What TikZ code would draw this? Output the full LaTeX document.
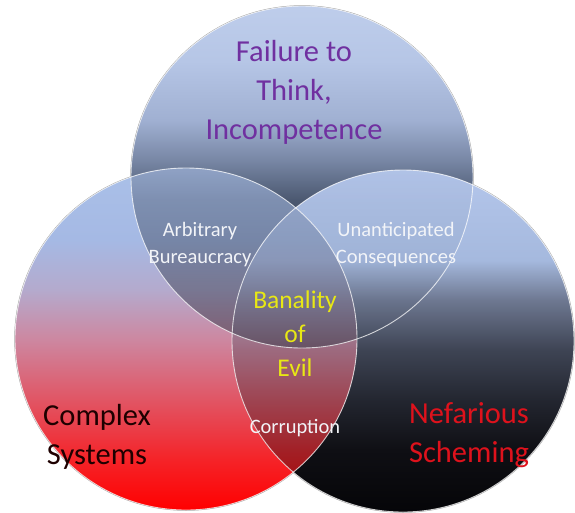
\documentclass[tikz,border=0pt]{standalone}
\usepackage{fontspec}
\setmainfont{Carlito}
% top circle colours
\definecolor{ta}{RGB}{35,42,55}
\definecolor{tb}{RGB}{55,65,85}
\definecolor{tcc}{RGB}{75,88,112}
\definecolor{td}{RGB}{120,135,165}
\definecolor{te}{RGB}{160,176,210}
\definecolor{tf}{RGB}{182,198,230}
\definecolor{tg}{RGB}{190,205,235}
% left circle colours
\definecolor{la}{RGB}{255,0,0}
\definecolor{lb}{RGB}{245,35,40}
\definecolor{lcc}{RGB}{225,85,100}
\definecolor{ld}{RGB}{205,135,160}
\definecolor{le}{RGB}{180,170,205}
\definecolor{lf}{RGB}{165,185,228}
\definecolor{lg}{RGB}{170,192,232}
% right circle colours
\definecolor{ra}{RGB}{5,5,8}
\definecolor{rb}{RGB}{15,15,20}
\definecolor{rcc}{RGB}{35,38,48}
\definecolor{rd}{RGB}{62,68,84}
\definecolor{re}{RGB}{110,120,145}
\definecolor{rf}{RGB}{165,185,222}
\definecolor{rg}{RGB}{180,198,235}
% text colours
\definecolor{purpletxt}{RGB}{112,48,160}
\definecolor{yellowtxt}{RGB}{232,232,20}
\definecolor{redtxt}{RGB}{222,18,28}
\definecolor{darktxt}{RGB}{30,0,0}
\definecolor{whitetxt}{RGB}{242,244,248}
\pgfdeclareverticalshading{tshade}{100bp}{color(0bp)=(ta); color(25bp)=(ta); color(37.9bp)=(tb); color(46.6bp)=(tcc); color(52.5bp)=(td); color(58.3bp)=(te); color(67bp)=(tf); color(75bp)=(tg); color(100bp)=(tg)}
\pgfdeclareverticalshading{lshade}{100bp}{color(0bp)=(la); color(25bp)=(la); color(32.4bp)=(lb); color(41.1bp)=(lcc); color(49.9bp)=(ld); color(57.2bp)=(le); color(64.5bp)=(lf); color(75bp)=(lg); color(100bp)=(lg)}
\pgfdeclareverticalshading{rshade}{100bp}{color(0bp)=(ra); color(25bp)=(ra); color(34.1bp)=(rb); color(41.4bp)=(rcc); color(48.7bp)=(rd); color(56bp)=(re); color(61.8bp)=(rf); color(75bp)=(rg); color(100bp)=(rg)}
\tikzset{
  ring/.style={white, opacity=0.75, line width=0.9pt},
  shadowring/.style={black!45, line width=1.4pt},
  bigtxt/.style={align=center, font=\fontsize{30.5pt}{39pt}\selectfont, inner sep=0pt},
  midtxt/.style={align=center, font=\fontsize{25.5pt}{34pt}\selectfont, inner sep=0pt},
  smalltxt/.style={align=center, font=\fontsize{20.5pt}{27pt}\selectfont, inner sep=0pt, text=whitetxt},
}
\begin{document}
\begin{tikzpicture}[x=1pt,y=-1pt]
\useasboundingbox (0,0) rectangle (575,512);
\def\R{171pt}
\coordinate (tc) at (302,177);
\coordinate (lc) at (186,339);
\coordinate (rc) at (403,341);
% shadows
\draw[shadowring,shift={(1.2,1.2)}] (tc) circle[radius=\R];
\draw[shadowring,shift={(1.2,1.2)}] (lc) circle[radius=\R];
\draw[shadowring,shift={(1.2,1.2)}] (rc) circle[radius=\R];
% base circles
\shade[shading=tshade] (tc) circle[radius=\R];
\shade[shading=lshade] (lc) circle[radius=\R];
\shade[shading=rshade] (rc) circle[radius=\R];
% top & left overlap
\begin{scope}
  \clip (tc) circle[radius=\R];
  \clip (lc) circle[radius=\R];
  \shade[shading=tshade, opacity=0.45] (tc) circle[radius=\R];
\end{scope}
% top & right overlap
\begin{scope}
  \clip (tc) circle[radius=\R];
  \clip (rc) circle[radius=\R];
  \shade[shading=tshade, opacity=0.05] (tc) circle[radius=\R];
\end{scope}
% left & right overlap
\begin{scope}
  \clip (lc) circle[radius=\R];
  \clip (rc) circle[radius=\R];
  \shade[shading=lshade, opacity=0.65] (lc) circle[radius=\R];
\end{scope}
% triple overlap
\begin{scope}
  \clip (tc) circle[radius=\R];
  \clip (lc) circle[radius=\R];
  \clip (rc) circle[radius=\R];
  \shade[shading=rshade] (rc) circle[radius=\R];
  \shade[shading=tshade, opacity=0.4] (tc) circle[radius=\R];
  \shade[shading=lshade, opacity=0.34] (lc) circle[radius=\R];
\end{scope}
% outlines
\draw[ring] (tc) circle[radius=\R];
\draw[ring] (lc) circle[radius=\R];
\draw[ring] (rc) circle[radius=\R];
% texts
\node[bigtxt, text=purpletxt] (failure) at (294,92) {Failure to\\Think,\\Incompetence};
\node[smalltxt] (arb) at (200,245) {Arbitrary\\Bureaucracy};
\node[smalltxt] (unant) at (396,245) {Unanticipated\\Consequences};
\node[midtxt, text=yellowtxt] (banal) at (295,334) {Banality\\of\\Evil};
\node[smalltxt] (corr) at (295,428) {Corruption};
\node[bigtxt, text=darktxt] (complex) at (97,437) {Complex\\Systems};
\node[bigtxt, text=redtxt] (nefar) at (469,435) {Nefarious\\Scheming};
\end{tikzpicture}
\end{document}
